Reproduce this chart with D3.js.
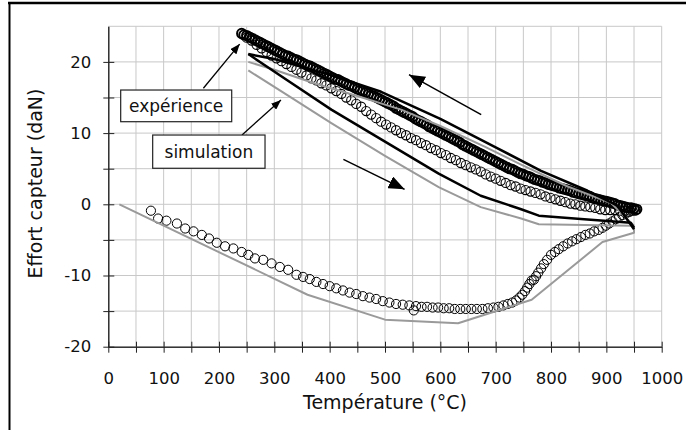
<!DOCTYPE html>
<html><head><meta charset="utf-8">
<script src="https://cdn.jsdelivr.net/npm/d3@7"></script>
<style>html,body{margin:0;padding:0;background:#fff;} svg{display:block;font-family:"DejaVu Sans",Verdana,sans-serif;}</style>
</head><body><svg id="chart" width="686" height="430"></svg>
<script>
// ---- data ----
const tempTicks = [0,100,200,300,400,500,600,700,800,900,1000];
const forceTicks = [-20,-10,0,10,20];
const tempGrid = [0,50,100,150,200,250,300,350,400,450,500,550,600,650,700,750,800,850,900,950,1000];
const forceGrid = [-20,-15,-10,-5,0,5,10,15,20,25];

// experiment: first heating
const expHeating1 = [[77,-0.9],[90,-2.0],[105,-2.3],[124,-2.7],[139,-3.4],[154,-3.8],[169,-4.3],[182,-4.8],[196,-5.4],[211,-5.9],[226,-6.2],[241,-6.7],[253,-7.1],[265,-7.6],[280,-7.8],[295,-8.3],[310,-8.8],[325,-9.2],[340,-9.9],[352,-10.2],[364,-10.5],[376,-10.9],[388,-11.2],[400,-11.5],[412,-11.8],[424,-12.1],[436,-12.4],[448,-12.6],[460,-12.9],[472,-13.1],[484,-13.3],[496,-13.6],[508,-13.8],[520,-14.0],[532,-14.1],[544,-14.2],[552,-14.9],[556,-14.3],[566,-14.4],[576,-14.4],[586,-14.5],[596,-14.5],[606,-14.6],[616,-14.6],[626,-14.7],[636,-14.7],[646,-14.7],[656,-14.7],[666,-14.7],[676,-14.7],[686,-14.6],[696,-14.5],[705,-14.4],[714,-14.2],[722,-14.0],[730,-13.8],[737,-13.5],[743,-13.1],[748,-12.7],[753,-12.2],[757,-11.7],[761,-11.2],[765,-10.7],[769,-10.6],[773,-10.1],[777,-9.6],[782,-9.0],[787,-8.4],[793,-7.8],[800,-7.1],[807,-6.7],[814,-6.3],[822,-5.9],[830,-5.5],[838,-5.2],[846,-4.9],[854,-4.6],[862,-4.3],[870,-4.1],[878,-3.8],[886,-3.6],[893,-3.3],[899,-3.0],[905,-2.7],[911,-2.4],[917,-2.1],[923,-1.8],[929,-1.5],[935,-1.3],[941,-1.1],[947,-0.9],[953,-0.8]];

// experiment: cooling (dense band)
const expCooling = [[955,-0.7],[950,-0.6],[945,-0.5],[940,-0.5],[935,-0.4],[930,-0.3],[925,-0.2],[920,-0.1],[915,0.1],[910,0.2],[905,0.3],[900,0.4],[895,0.5],[890,0.6],[885,0.7],[880,0.8],[875,0.9],[870,1.1],[865,1.2],[860,1.3],[855,1.4],[850,1.5],[845,1.6],[840,1.7],[835,1.9],[830,2.0],[825,2.1],[820,2.2],[815,2.3],[810,2.5],[805,2.6],[800,2.7],[795,2.8],[790,3.0],[785,3.1],[780,3.3],[775,3.4],[770,3.5],[765,3.7],[760,3.9],[755,4.0],[750,4.2],[745,4.3],[740,4.5],[735,4.7],[730,4.9],[725,5.0],[720,5.2],[715,5.4],[710,5.6],[705,5.8],[700,6.0],[695,6.2],[690,6.4],[685,6.6],[680,6.8],[675,7.0],[670,7.2],[665,7.4],[660,7.6],[655,7.8],[650,8.0],[645,8.2],[640,8.4],[635,8.7],[630,8.9],[625,9.1],[620,9.3],[615,9.5],[610,9.7],[605,9.9],[600,10.1],[595,10.3],[590,10.5],[585,10.7],[580,10.9],[575,11.2],[570,11.4],[565,11.6],[560,11.8],[555,12.0],[550,12.3],[545,12.5],[540,12.7],[535,12.9],[530,13.1],[525,13.3],[520,13.5],[515,13.8],[510,14.0],[505,14.2],[500,14.4],[495,14.6],[490,14.8],[485,15.0],[480,15.2],[475,15.3],[470,15.5],[465,15.7],[460,15.9],[455,16.0],[450,16.2],[445,16.4],[440,16.6],[435,16.7],[430,16.9],[425,17.1],[420,17.3],[415,17.5],[410,17.6],[405,17.8],[400,18.0],[395,18.2],[390,18.4],[385,18.6],[380,18.8],[375,19.0],[370,19.2],[365,19.4],[360,19.5],[355,19.7],[350,19.9],[345,20.1],[340,20.3],[335,20.4],[330,20.6],[325,20.8],[320,20.9],[315,21.1],[310,21.3],[305,21.5],[300,21.7],[295,21.9],[290,22.1],[285,22.3],[280,22.5],[275,22.7],[270,22.9],[265,23.1],[260,23.3],[255,23.5],[250,23.7],[245,23.8],[241,24.0]];

// experiment: second heating (open circle band)
const expHeating2 = [[250,23.4],[259,23.0],[268,22.4],[277,21.9],[286,21.4],[295,20.9],[304,20.5],[313,20.1],[322,19.7],[331,19.3],[340,18.9],[349,18.5],[358,18.1],[367,17.7],[376,17.4],[385,17.0],[394,16.7],[403,16.3],[412,15.9],[421,15.5],[430,15.0],[439,14.6],[448,14.1],[457,13.7],[466,13.1],[475,12.6],[484,12.1],[493,11.6],[502,11.2],[511,10.8],[520,10.4],[529,10.0],[538,9.7],[547,9.3],[556,9.0],[565,8.6],[574,8.3],[583,7.9],[592,7.6],[601,7.2],[610,6.9],[619,6.5],[628,6.2],[637,5.8],[646,5.5],[655,5.2],[664,4.9],[673,4.6],[682,4.2],[691,3.9],[700,3.6],[709,3.3],[718,3.0],[727,2.7],[736,2.5],[745,2.2],[754,2.0],[763,1.8],[772,1.6],[781,1.4],[790,1.1],[799,0.9],[808,0.7],[817,0.5],[826,0.3],[835,0.1],[844,0.0],[853,-0.2],[862,-0.3],[871,-0.4],[880,-0.5],[889,-0.7],[898,-0.8],[907,-0.8],[916,-0.8],[925,-0.9],[934,-0.9],[943,-0.9],[952,-0.9]];

// simulation (gray): first heating, cooling, second heating
const simGrayHeating1 = [[20,0],[360,-12.7],[500,-16.2],[632,-16.7],[765,-13.4],[893,-5.3],[950,-4.0],[950,-3.0]];
const simGrayCooling = [[950,-3.0],[908,0.2],[830,2.5],[745,5.6],[680,8.1],[600,11.0],[529,13.3],[450,15.2],[372,17.0],[300,18.9],[253,20.0]];
const simGrayHeating2 = [[253,18.8],[320,15.5],[403,11.4],[500,6.8],[597,2.4],[673,-0.4],[746,-2.0],[778,-2.8],[944,-3.0],[950,-3.2]];
// simulation (black): cooling, heating
const simBlackCooling = [[950,-3.5],[920,-0.2],[866,1.9],[782,4.7],[700,8.0],[600,12.0],[493,15.8],[400,18.2],[300,20.4],[253,21.1]];
const simBlackHeating = [[253,21.1],[320,17.6],[403,13.3],[500,8.8],[597,4.3],[673,1.2],[746,-0.7],[778,-1.6],[860,-2.1],[944,-2.6],[950,-3.3]];

// ---- layout ----
const W = 686, H = 430;
const mLeft = 108.3, mTop = 26.3, mRight = 661.7, mBottom = 346.7;
const svg = d3.select("#chart");
const x = d3.scaleLinear().domain([0,1000]).range([mLeft,mRight]);
const y = d3.scaleLinear().domain([-20,25]).range([mBottom,mTop]);

// outer frame (top & left)
svg.append("line").attr("x1",8).attr("x2",W).attr("y1",3).attr("y2",3).attr("stroke","#000").attr("stroke-width",2.5);
svg.append("line").attr("x1",9.5).attr("x2",9.5).attr("y1",2).attr("y2",H).attr("stroke","#000").attr("stroke-width",2);

// grid
const g = svg.append("g");
g.selectAll(".vg").data(tempGrid.filter(d=>d>0)).join("line")
  .attr("x1",d=>x(d)).attr("x2",d=>x(d)).attr("y1",mTop).attr("y2",mBottom)
  .attr("stroke","#c8c8c8").attr("stroke-width",1);
g.selectAll(".hg").data(forceGrid.filter(d=>d>-20)).join("line")
  .attr("x1",mLeft).attr("x2",mRight).attr("y1",d=>y(d)).attr("y2",d=>y(d))
  .attr("stroke","#c8c8c8").attr("stroke-width",1);

// axes
const fmt = d => String(d);
const axX = svg.append("g").attr("transform",`translate(0,${mBottom})`);
axX.call(d3.axisBottom(x).tickValues(tempGrid).tickSize(6).tickSizeOuter(0).tickFormat(""));
const axXin = svg.append("g").attr("transform",`translate(0,${mBottom})`);
axXin.call(d3.axisTop(x).tickValues(tempGrid).tickSize(5).tickSizeOuter(0).tickFormat(""));
const axXl = svg.append("g").attr("transform",`translate(0,${mBottom})`);
axXl.call(d3.axisBottom(x).tickValues(tempTicks).tickSize(0).tickPadding(26).tickFormat(fmt));
axXl.select(".domain").remove();

const axY = svg.append("g").attr("transform",`translate(${mLeft},0)`);
axY.call(d3.axisLeft(y).tickValues(forceGrid.filter(d=>d<25)).tickSize(5).tickSizeOuter(0).tickFormat(""));
const axYin = svg.append("g").attr("transform",`translate(${mLeft},0)`);
axYin.call(d3.axisRight(y).tickValues(forceGrid.filter(d=>d<25)).tickSize(6).tickSizeOuter(0).tickFormat(""));
const axYl = svg.append("g").attr("transform",`translate(${mLeft},0)`);
axYl.call(d3.axisLeft(y).tickValues(forceTicks).tickSize(0).tickPadding(17).tickFormat(fmt));
axYl.select(".domain").remove();
svg.selectAll(".tick line").attr("stroke","#222");
svg.selectAll(".domain").attr("stroke","#222");
svg.selectAll(".tick text").attr("font-size",16.5).attr("fill","#111").attr("font-family",'"DejaVu Sans",Verdana,sans-serif');

// axis titles
svg.append("text").attr("x",(mLeft+mRight)/2).attr("y",402).attr("text-anchor","middle").attr("dominant-baseline","central")
  .attr("font-size",19).attr("fill","#111").text("Température (°C)");
svg.append("text").attr("transform",`translate(35,${(mTop+mBottom)/2-3}) rotate(-90)`).attr("text-anchor","middle").attr("dominant-baseline","central")
  .attr("font-size",19).attr("fill","#111").text("Effort capteur (daN)");

// curves
const line = d3.line().x(d=>x(d[0])).y(d=>y(d[1]));
const plot = svg.append("g");
function circles(data, sw){
  plot.append("g").selectAll("circle").data(data).join("circle")
    .attr("cx",d=>x(d[0])).attr("cy",d=>y(d[1])).attr("r",4.6)
    .attr("fill","none").attr("stroke","#000").attr("stroke-width",sw);
}
circles(expHeating1, 1);
circles(expHeating2, 1.1);
circles(expCooling, 2);

[simGrayHeating1, simGrayCooling, simGrayHeating2].forEach(s=>{
  plot.append("path").datum(s).attr("d",line).attr("fill","none").attr("stroke","#9a9a9a").attr("stroke-width",2).attr("stroke-linejoin","round");
});
[simBlackCooling, simBlackHeating].forEach(s=>{
  plot.append("path").datum(s).attr("d",line).attr("fill","none").attr("stroke","#000").attr("stroke-width",2.5).attr("stroke-linejoin","round");
});

// arrow markers
const defs = svg.append("defs");
defs.append("marker").attr("id","hs").attr("markerUnits","userSpaceOnUse").attr("viewBox","0 0 10 8")
  .attr("refX",10).attr("refY",4).attr("markerWidth",10).attr("markerHeight",8).attr("orient","auto")
  .append("path").attr("d","M0,0L10,4L0,8Z").attr("fill","#000");
defs.append("marker").attr("id","hb").attr("markerUnits","userSpaceOnUse").attr("viewBox","0 0 16 13")
  .attr("refX",16).attr("refY",6.5).attr("markerWidth",16).attr("markerHeight",13).attr("orient","auto")
  .append("path").attr("d","M0,0L16,6.5L0,13Z").attr("fill","#000");

function arrow(t0,f0,t1,f1,m,w){
  svg.append("line").attr("x1",x(t0)).attr("y1",y(f0)).attr("x2",x(t1)).attr("y2",y(f1))
    .attr("stroke","#000").attr("stroke-width",w).attr("marker-end",`url(#${m})`);
}
// direction arrows
arrow(673.8,12.6,543.4,18.2,"hb",1.5);
arrow(424.8,6.3,535.4,2.1,"hb",1.5);

// labels with boxes
function box(t0,t1,f0,f1,label){
  svg.append("rect").attr("x",x(t0)).attr("y",y(f0)).attr("width",x(t1)-x(t0)).attr("height",y(f1)-y(f0))
    .attr("fill","#fff").attr("stroke","#222").attr("stroke-width",1.2);
  svg.append("text").attr("x",(x(t0)+x(t1))/2).attr("y",(y(f0)+y(f1))/2).attr("text-anchor","middle")
    .attr("dominant-baseline","central").attr("font-size",17).attr("fill","#111").text(label);
}
arrow(171.8,16.3,237.4,22.5,"hs",1.3);
arrow(241.6,9.73,312,14.65,"hs",1.3);
box(22.4,223,16.05,11.6,"expérience");
box(80.2,283.2,9.73,5.06,"simulation");
</script></body></html>
